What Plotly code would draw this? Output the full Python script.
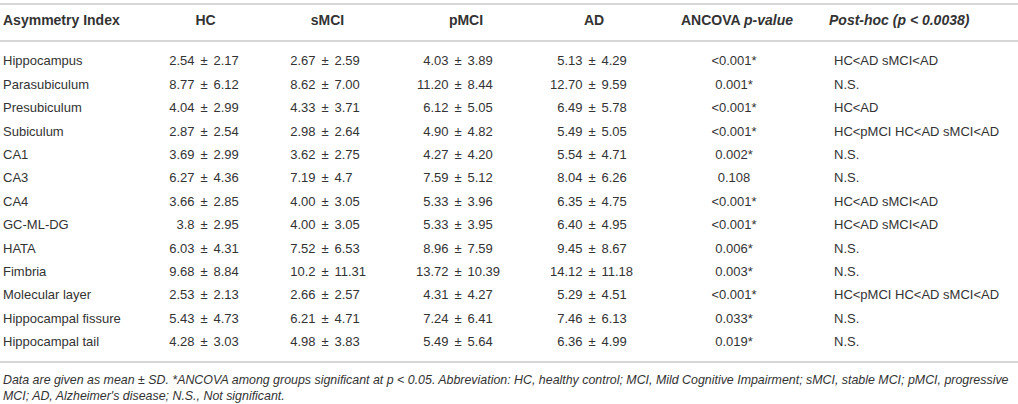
import plotly.graph_objects as go
import numpy as np

REGIONS = ["Hippocampus", "Parasubiculum", "Presubiculum", "Subiculum", "CA1", "CA3", "CA4",
           "GC-ML-DG", "HATA", "Fimbria", "Molecular layer", "Hippocampal fissure", "Hippocampal tail"]
HC_MEAN = ["2.54", "8.77", "4.04", "2.87", "3.69", "6.27", "3.66", "3.8", "6.03", "9.68", "2.53", "5.43", "4.28"]
HC_SD = ["2.17", "6.12", "2.99", "2.54", "2.99", "4.36", "2.85", "2.95", "4.31", "8.84", "2.13", "4.73", "3.03"]
SMCI_MEAN = ["2.67", "8.62", "4.33", "2.98", "3.62", "7.19", "4.00", "4.00", "7.52", "10.2", "2.66", "6.21", "4.98"]
SMCI_SD = ["2.59", "7.00", "3.71", "2.64", "2.75", "4.7", "3.05", "3.05", "6.53", "11.31", "2.57", "4.71", "3.83"]
PMCI_MEAN = ["4.03", "11.20", "6.12", "4.90", "4.27", "7.59", "5.33", "5.33", "8.96", "13.72", "4.31", "7.24", "5.49"]
PMCI_SD = ["3.89", "8.44", "5.05", "4.82", "4.20", "5.12", "3.96", "3.95", "7.59", "10.39", "4.27", "6.41", "5.64"]
AD_MEAN = ["5.13", "12.70", "6.49", "5.49", "5.54", "8.04", "6.35", "6.40", "9.45", "14.12", "5.29", "7.46", "6.36"]
AD_SD = ["4.29", "9.59", "5.78", "5.05", "4.71", "6.26", "4.75", "4.95", "8.67", "11.18", "4.51", "6.13", "4.99"]
ANCOVA_P = ["<0.001*", "0.001*", "<0.001*", "<0.001*", "0.002*", "0.108", "<0.001*", "<0.001*",
            "0.006*", "0.003*", "<0.001*", "0.033*", "0.019*"]
POST_HOC = ["HC<AD sMCI<AD", "N.S.", "HC<AD", "HC<pMCI HC<AD sMCI<AD", "N.S.", "N.S.", "HC<AD sMCI<AD",
            "HC<AD sMCI<AD", "N.S.", "N.S.", "HC<pMCI HC<AD sMCI<AD", "N.S.", "N.S."]
HEADERS = ["Asymmetry Index", "HC", "sMCI", "pMCI", "AD", "ANCOVA <i>p-value</i>", "<i>Post-hoc (p < 0.0038)</i>"]
FOOTNOTE = ["Data are given as mean \u00b1 SD. *ANCOVA among groups significant at p < 0.05. Abbreviation: HC, healthy control; "
            "MCI, Mild Cognitive Impairment; sMCI, stable MCI; pMCI, progressive",
            "MCI; AD, Alzheimer's disease; N.S., Not significant."]

FONT = "Liberation Sans, Arial, sans-serif"
TXT = "#333333"
RULE = "#c8c8c8"
FS = 13

# layout geometry (pixels along x, row units along y)
W, H = 1018, 404
ROW0_PX, PITCH = 62.0, 23.42
def px_to_row(p):
    return (p - ROW0_PX) / PITCH

rows = np.arange(len(REGIONS))
fig = go.Figure()

def add_text(xpos, ys, texts, pos, bold=False, italic=False, size=FS):
    fig.add_trace(go.Scatter(
        x=[xpos] * len(texts), y=list(ys), text=texts, mode="text", textposition=pos,
        textfont=dict(family=FONT, size=size, color=TXT,
                      weight="bold" if bold else "normal",
                      style="italic" if italic else "normal"),
        hoverinfo="skip", showlegend=False, cliponaxis=False))

# label column
add_text(3, rows, REGIONS, "middle right")

# mean ± SD columns, aligned on the ± sign
PM_X = [204, 325, 458, 592]
GAP = 9.5
for pm, means, sds in [(PM_X[0], HC_MEAN, HC_SD), (PM_X[1], SMCI_MEAN, SMCI_SD),
                       (PM_X[2], PMCI_MEAN, PMCI_SD), (PM_X[3], AD_MEAN, AD_SD)]:
    add_text(pm - GAP, rows, means, "middle left")
    add_text(pm, rows, ["\u00b1"] * len(means), "middle center")
    add_text(pm + GAP, rows, sds, "middle right")

add_text(734, rows, ANCOVA_P, "middle center")
add_text(834, rows, POST_HOC, "middle right")

# header row
hy = px_to_row(21.5)
HEAD_X = [3, 205.5, 327.5, 466, 594, 737, 829]
HEAD_POS = ["middle right", "middle center", "middle center", "middle center", "middle center",
            "middle center", "middle right"]
for hx, ht, hp in zip(HEAD_X, HEADERS, HEAD_POS):
    add_text(hx, [hy], [ht], hp, bold=True, size=14)

# footnote
add_text(3, [px_to_row(381), px_to_row(397)], FOOTNOTE, "middle right", italic=True, size=12.4)

# horizontal rules
for p in (4, 41, 362):
    fig.add_shape(type="line", x0=0, x1=W, y0=px_to_row(p), y1=px_to_row(p),
                  xref="x", yref="y", line=dict(color=RULE, width=1.5))

fig.update_layout(
    width=W, height=H, margin=dict(l=0, r=0, t=0, b=0),
    paper_bgcolor="white", plot_bgcolor="white",
    xaxis=dict(range=[0, W], visible=False, fixedrange=True),
    yaxis=dict(range=[px_to_row(H), px_to_row(0)], visible=False, fixedrange=True),
    showlegend=False,
)
fig.write_html("out.html", config={"displayModeBar": False},
               post_script="document.body.style.margin='0';document.body.style.overflow='hidden';")
